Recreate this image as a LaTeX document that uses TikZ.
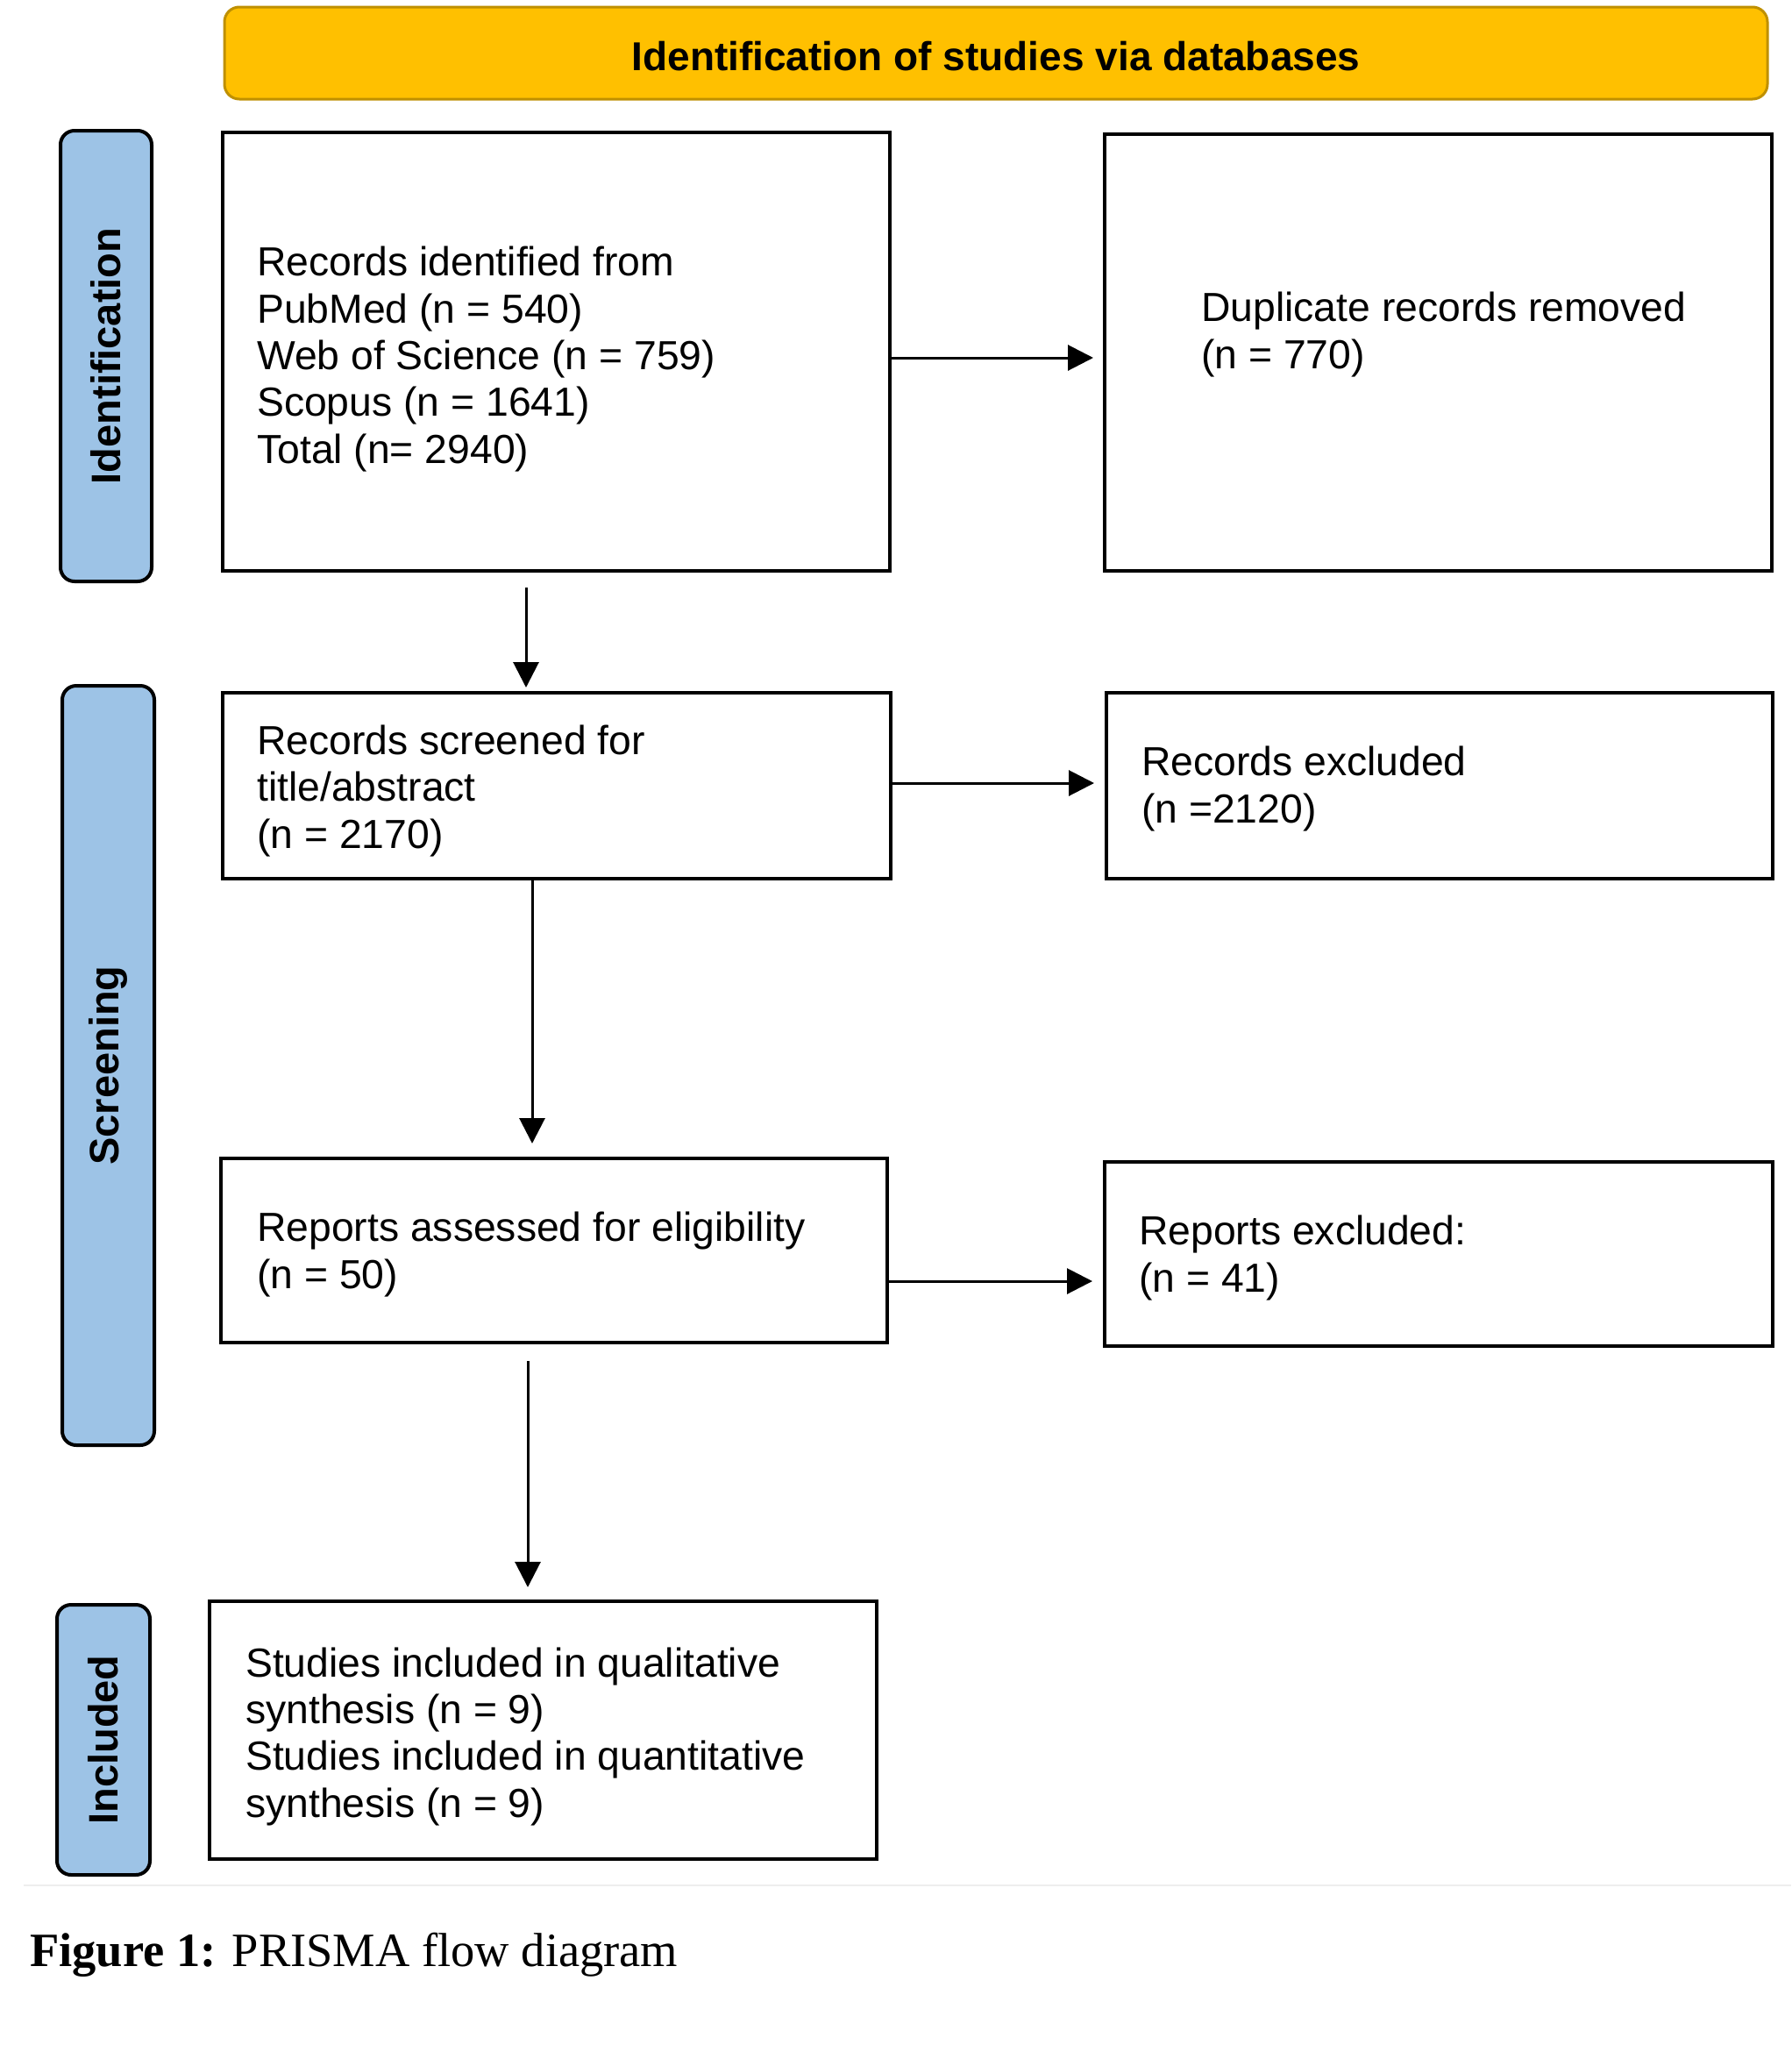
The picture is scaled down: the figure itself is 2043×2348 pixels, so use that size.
\documentclass[tikz,border=0pt]{standalone}
\usepackage{fontspec}
\setmainfont{Liberation Sans}
\newfontfamily\capfont{Liberation Serif}
\usetikzlibrary{arrows.meta}
\definecolor{hdrfill}{HTML}{FFC000}
\definecolor{hdrdraw}{HTML}{BF9000}
\definecolor{barfill}{HTML}{9DC3E6}
\definecolor{rulegray}{HTML}{EEEEEE}
\begin{document}
\begin{tikzpicture}[x=1pt,y=-1pt,
  box/.style={draw=black, line width=4pt, fill=white, inner sep=0pt, outer sep=0pt},
  sidebar/.style={draw=black, line width=4pt, fill=barfill, rounded corners=16pt, inner sep=0pt, outer sep=0pt},
  hdr/.style={draw=hdrdraw, line width=3pt, fill=hdrfill, rounded corners=17pt, inner sep=0pt, outer sep=0pt},
  txt/.style={anchor=base west, align=left, inner sep=0pt, font=\fontsize{46.3}{53.3}\selectfont},
  bartxt/.style={rotate=90, inner sep=0pt, font=\fontsize{47}{54}\selectfont\bfseries},
  arr/.style={line width=3pt, -{Triangle[length=29pt,width=29pt]}},
]
\useasboundingbox (0,0) rectangle (2043,2348);
\fill[white] (0,0) rectangle (2043,2348);

% header
\node[hdr, minimum width=1760pt, minimum height=105pt] (hd) at (1136,60.5) {};
\node[anchor=base, inner sep=0pt, font=\fontsize{46}{54}\selectfont\bfseries] (ht) at (1136,80) {Identification of studies via databases};

% side bars
\node[sidebar, minimum width=104pt, minimum height=514pt] (s1) at (121,406) {};
\node[bartxt] (l1) at (s1.center) {Identification};
\node[sidebar, minimum width=105pt, minimum height=866pt] (s2) at (123.5,1215) {};
\node[bartxt] (l2) at (s2.center) {Screening};
\node[sidebar, minimum width=106pt, minimum height=308pt] (s3) at (118,1984) {};
\node[bartxt] (l3) at (s3.center) {Included};

% boxes
\node[box, minimum width=761pt, minimum height=500pt] (b1) at (634.5,401) {};
\node[box, minimum width=761pt, minimum height=498pt] (b2) at (1640.5,402) {};
\node[box, minimum width=762pt, minimum height=212pt] (b3) at (635,896) {};
\node[box, minimum width=760pt, minimum height=212pt] (b4) at (1642,896) {};
\node[box, minimum width=760pt, minimum height=210pt] (b5) at (632,1426) {};
\node[box, minimum width=762pt, minimum height=210pt] (b6) at (1641,1430) {};
\node[box, minimum width=761pt, minimum height=294pt] (b7) at (619.5,1973) {};

% texts (anchored at the baseline of the last line)
\node[txt] (t1) at (293,528) {Records identified from\\PubMed (n = 540)\\Web of Science (n = 759)\\Scopus (n = 1641)\\Total (n= 2940)};
\node[txt] (t2) at (1370,420) {Duplicate records removed\\(n = 770)};
\node[txt] (t3) at (293,967) {Records screened for\\title/abstract\\(n = 2170)};
\node[txt] (t4) at (1302,938) {Records excluded\\(n =2120)};
\node[txt] (t5) at (293,1469) {Reports assessed for eligibility\\(n = 50)};
\node[txt] (t6) at (1299,1473) {Reports excluded:\\(n = 41)};
\node[txt] (t7) at (280,2072) {Studies included in qualitative\\synthesis (n = 9)\\Studies included in quantitative\\synthesis (n = 9)};

% arrows
\draw[arr, shorten >=13pt] ([yshift=-7pt]b1.east) -- ([yshift=-7pt]b1.east -| b2.west);
\draw[arr, shorten >=14pt] ([yshift=3pt]b3.east) -- ([yshift=3pt]b3.east -| b4.west);
\draw[arr, shorten >=14pt] ([yshift=-35pt]b5.east) -- ([yshift=-35pt]b5.east -| b6.west);
\draw[arr, shorten <=19pt, shorten >=6pt] ([xshift=-34.5pt]b1.south) -- ([xshift=-34.5pt]b1.south |- b3.north);
\draw[arr, shorten <=1pt, shorten >=17pt] ([xshift=-28pt]b3.south) -- ([xshift=-28pt]b3.south |- b5.north);
\draw[arr, shorten <=21pt, shorten >=16pt] ([xshift=-30pt]b5.south) -- ([xshift=-30pt]b5.south |- b7.north);

% separator and caption
\draw[rulegray, line width=2pt] (27,2150) -- (2043,2150);
\node[anchor=base west, inner sep=0pt, font=\capfont\fontsize{54.5}{60}\selectfont] (cap) at (34,2242) {\textbf{Figure 1:} PRISMA flow diagram};
\end{tikzpicture}
\end{document}
